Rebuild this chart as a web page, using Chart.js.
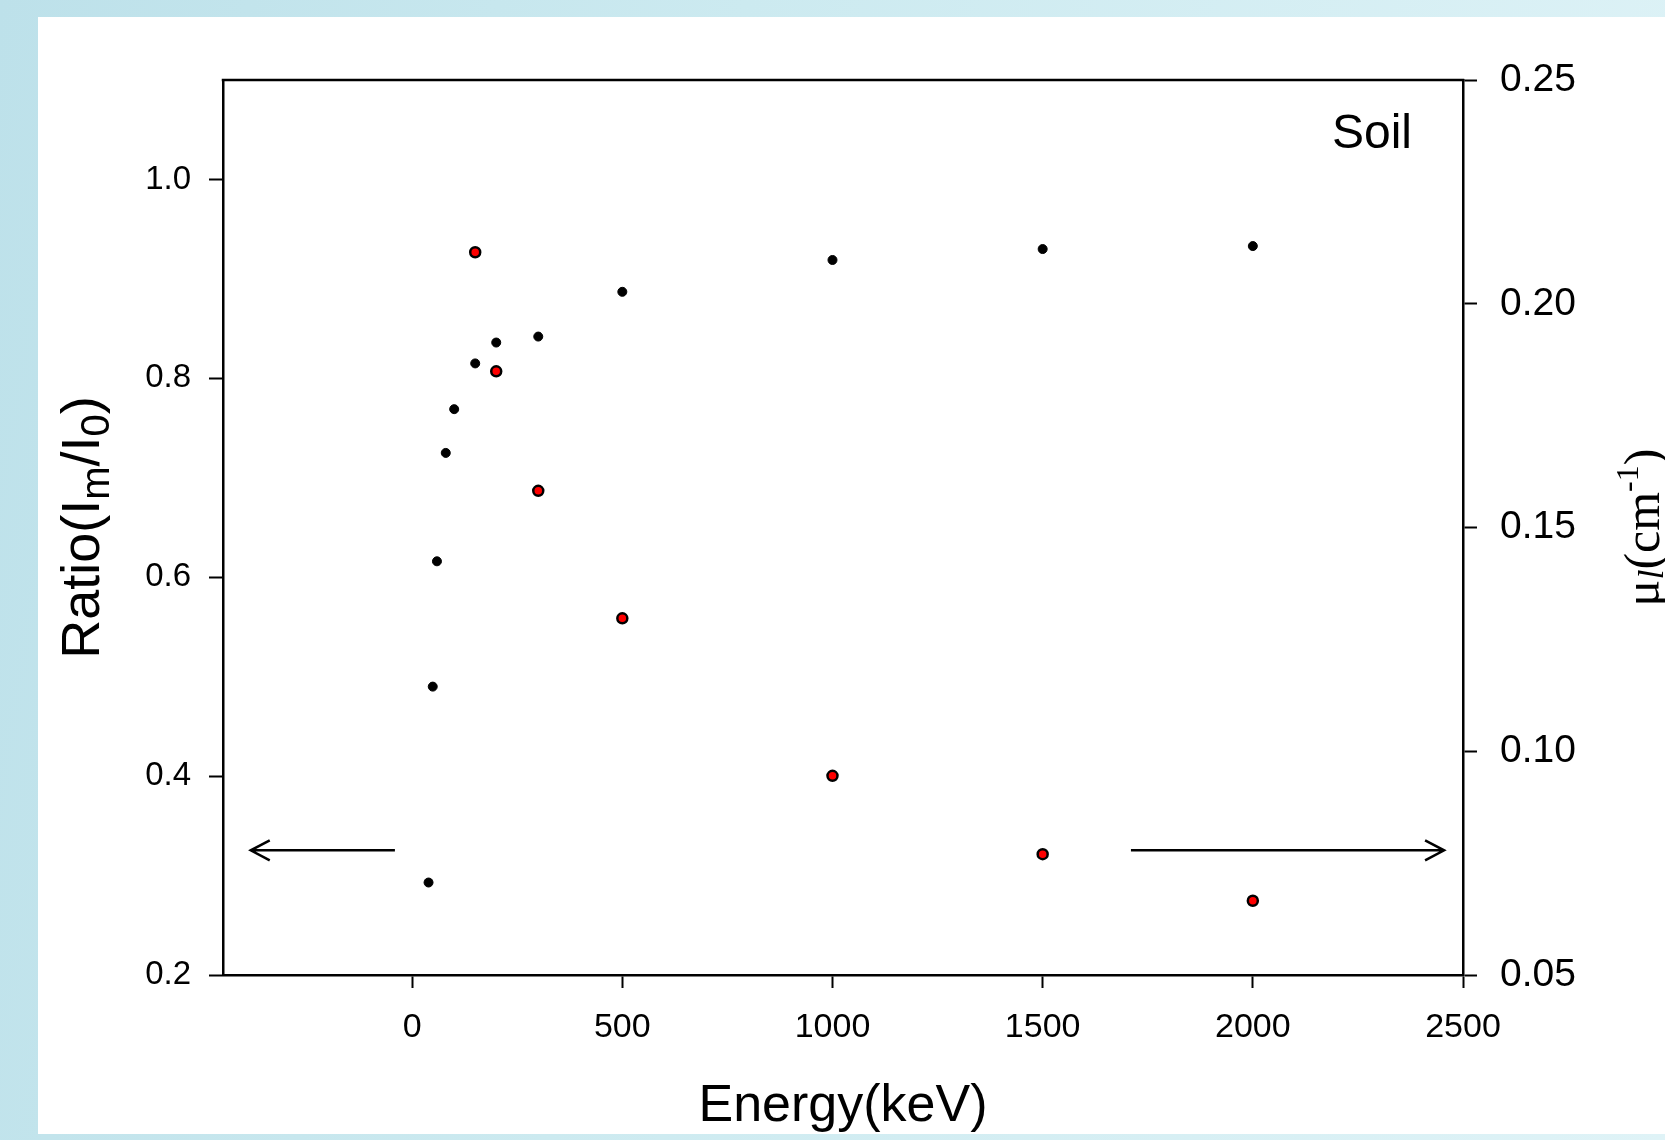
<!DOCTYPE html>
<html>
<head>
<meta charset="utf-8">
<title>Soil</title>
<script src="https://cdn.jsdelivr.net/npm/chart.js@4.4.1/dist/chart.umd.min.js"></script>
<style>
  html, body { margin: 0; padding: 0; }
  body {
    width: 1665px;
    height: 1140px;
    overflow: hidden;
    position: relative;
    background: linear-gradient(100deg, #bde1ea 0%, #cceaf0 40%, #dff3f7 100%);
  }
  #panel {
    position: absolute;
    left: 38px;
    top: 17px;
    width: 1627px;
    height: 1117px;
    background: #ffffff;
  }
  canvas { display: block; }
</style>
</head>
<body>
<div id="panel"><canvas id="myChart" width="1627" height="1117"></canvas></div>
<script>
// Energie des photons (keV) et rapport Im/I0 (axe gauche)
const energyRatio = [39, 49, 59, 80, 100, 150, 200, 300, 500, 1000, 1500, 2000];
const ratioValues = [0.293, 0.490, 0.616, 0.725, 0.769, 0.815, 0.836, 0.842, 0.887, 0.919, 0.930, 0.933];

// Coefficient d'attenuation lineique (cm-1, axe droit)
const energyMu = [150, 200, 300, 500, 1000, 1500, 2000];
const muValues = [0.2115, 0.1849, 0.1582, 0.1297, 0.0945, 0.0770, 0.0666];

// Graduations
const xTicks = [0, 500, 1000, 1500, 2000, 2500];
const ratioTicks = [0.2, 0.4, 0.6, 0.8, 1.0];
const muTicks = [0.05, 0.10, 0.15, 0.20, 0.25];

const panelLabel = 'Soil';

// Fleches indiquant l'axe de chaque serie (unites de donnees, axe gauche)
const arrowY = 0.3254;
const arrowLeft = [-41, -384];   // depart, pointe
const arrowRight = [1710, 2455]; // depart, pointe

const SANS = '"Liberation Sans", Arial, sans-serif';
const SERIF = '"Liberation Serif", "Times New Roman", serif';

// dessine une suite de morceaux de texte (indices, exposants) centree sur x
function drawRuns(ctx, runs, x, y) {
  let total = 0;
  runs.forEach(r => { ctx.font = r.font; r.w = ctx.measureText(r.text).width; total += r.w; });
  let cx = x - total / 2;
  ctx.textAlign = 'left';
  ctx.textBaseline = 'alphabetic';
  runs.forEach(r => {
    ctx.font = r.font;
    ctx.fillText(r.text, cx, y + (r.dy || 0));
    cx += r.w;
  });
}

function drawArrow(ctx, x0, x1, y) {
  const dir = Math.sign(x1 - x0);
  ctx.beginPath();
  ctx.moveTo(x0, y);
  ctx.lineTo(x1, y);
  ctx.moveTo(x1 - dir * 19, y - 10);
  ctx.lineTo(x1, y);
  ctx.lineTo(x1 - dir * 19, y + 10);
  ctx.stroke();
}

const frameAndLabels = {
  id: 'frameAndLabels',
  afterDraw(chart) {
    const { ctx, chartArea: a, scales } = chart;
    ctx.save();
    ctx.strokeStyle = '#000';
    ctx.fillStyle = '#000';
    ctx.lineWidth = 2.5;

    // bord superieur du cadre
    ctx.beginPath();
    ctx.moveTo(a.left - 1.25, a.top);
    ctx.lineTo(a.right + 1.25, a.top);
    ctx.stroke();

    // fleches
    const ay = scales.y.getPixelForValue(arrowY);
    drawArrow(ctx, scales.x.getPixelForValue(arrowLeft[0]), scales.x.getPixelForValue(arrowLeft[1]), ay);
    drawArrow(ctx, scales.x.getPixelForValue(arrowRight[0]), scales.x.getPixelForValue(arrowRight[1]), ay);

    // etiquette du materiau
    ctx.font = '48px ' + SANS;
    ctx.textAlign = 'right';
    ctx.textBaseline = 'alphabetic';
    ctx.fillText(panelLabel, a.right - 51, a.top + 68);

    const cx = (a.left + a.right) / 2;
    const cy = (a.top + a.bottom) / 2;

    // titre axe X
    drawRuns(ctx, [{ text: 'Energy(keV)', font: '52px ' + SANS }], cx, a.bottom + 146);

    // titre axe gauche : Ratio(Im/I0)
    ctx.save();
    ctx.translate(61, cy);
    ctx.rotate(-Math.PI / 2);
    const big = '54px ' + SANS, small = '40px ' + SANS;
    drawRuns(ctx, [
      { text: 'Ratio(I', font: big },
      { text: 'm', font: small, dy: 10 },
      { text: '/I', font: big },
      { text: '0', font: small, dy: 10 },
      { text: ')', font: big }
    ], 0, 0);
    ctx.restore();

    // titre axe droit : mu_l (cm-1)
    ctx.save();
    ctx.translate(1621, cy);
    ctx.rotate(-Math.PI / 2);
    drawRuns(ctx, [
      { text: '\u03BC', font: '50px ' + SERIF },
      { text: 'l', font: 'italic 36px ' + SERIF, dy: 4 },
      { text: '(cm', font: '50px ' + SERIF },
      { text: '-1', font: '32px ' + SERIF, dy: -21 },
      { text: ')', font: '50px ' + SERIF }
    ], 0, 0);
    ctx.restore();

    ctx.restore();
  }
};

const ctx = document.getElementById('myChart').getContext('2d');
new Chart(ctx, {
  type: 'scatter',
  data: {
    datasets: [
      {
        label: 'Ratio',
        data: energyRatio.map((e, i) => ({ x: e, y: ratioValues[i] })),
        yAxisID: 'y',
        pointRadius: 4.5,
        pointBackgroundColor: '#000',
        pointBorderColor: '#000',
        pointBorderWidth: 1
      },
      {
        label: 'mu',
        data: energyMu.map((e, i) => ({ x: e, y: muValues[i] })),
        yAxisID: 'y1',
        pointRadius: 5,
        pointBackgroundColor: '#ff0000',
        pointBorderColor: '#000',
        pointBorderWidth: 2.5
      }
    ]
  },
  options: {
    responsive: false,
    animation: false,
    layout: { padding: { top: 63, left: 0, right: 0, bottom: 0 } },
    plugins: {
      legend: { display: false },
      tooltip: { enabled: false }
    },
    scales: {
      x: {
        type: 'linear',
        position: 'bottom',
        min: -450,
        max: 2500,
        afterBuildTicks: s => { s.ticks = xTicks.map(v => ({ value: v })); },
        afterFit: s => { s.height = 159; },
        grid: { drawOnChartArea: false, tickLength: 13, tickWidth: 2, tickColor: '#000' },
        border: { color: '#000', width: 2.5 },
        ticks: {
          color: '#000',
          font: { family: SANS, size: 34 },
          padding: 19,
          maxRotation: 0,
          autoSkip: false,
          callback: v => String(v)
        }
      },
      y: {
        type: 'linear',
        position: 'left',
        min: 0.2,
        max: 1.1,
        afterBuildTicks: s => { s.ticks = ratioTicks.map(v => ({ value: v })); },
        afterFit: s => { s.width = 185; },
        grid: { drawOnChartArea: false, tickLength: 14, tickWidth: 2, tickColor: '#000' },
        border: { color: '#000', width: 2.5 },
        ticks: {
          color: '#000',
          font: { family: SANS, size: 33 },
          padding: 18,
          autoSkip: false,
          callback: v => v.toFixed(1)
        }
      },
      y1: {
        type: 'linear',
        position: 'right',
        min: 0.05,
        max: 0.25,
        afterBuildTicks: s => { s.ticks = muTicks.map(v => ({ value: v })); },
        afterFit: s => { s.width = 202; },
        grid: { drawOnChartArea: false, tickLength: 14, tickWidth: 2, tickColor: '#000' },
        border: { color: '#000', width: 2.5 },
        ticks: {
          color: '#000',
          font: { family: SANS, size: 39 },
          padding: 23,
          autoSkip: false,
          callback: v => v.toFixed(2)
        }
      }
    }
  },
  plugins: [frameAndLabels]
});
</script>
</body>
</html>
